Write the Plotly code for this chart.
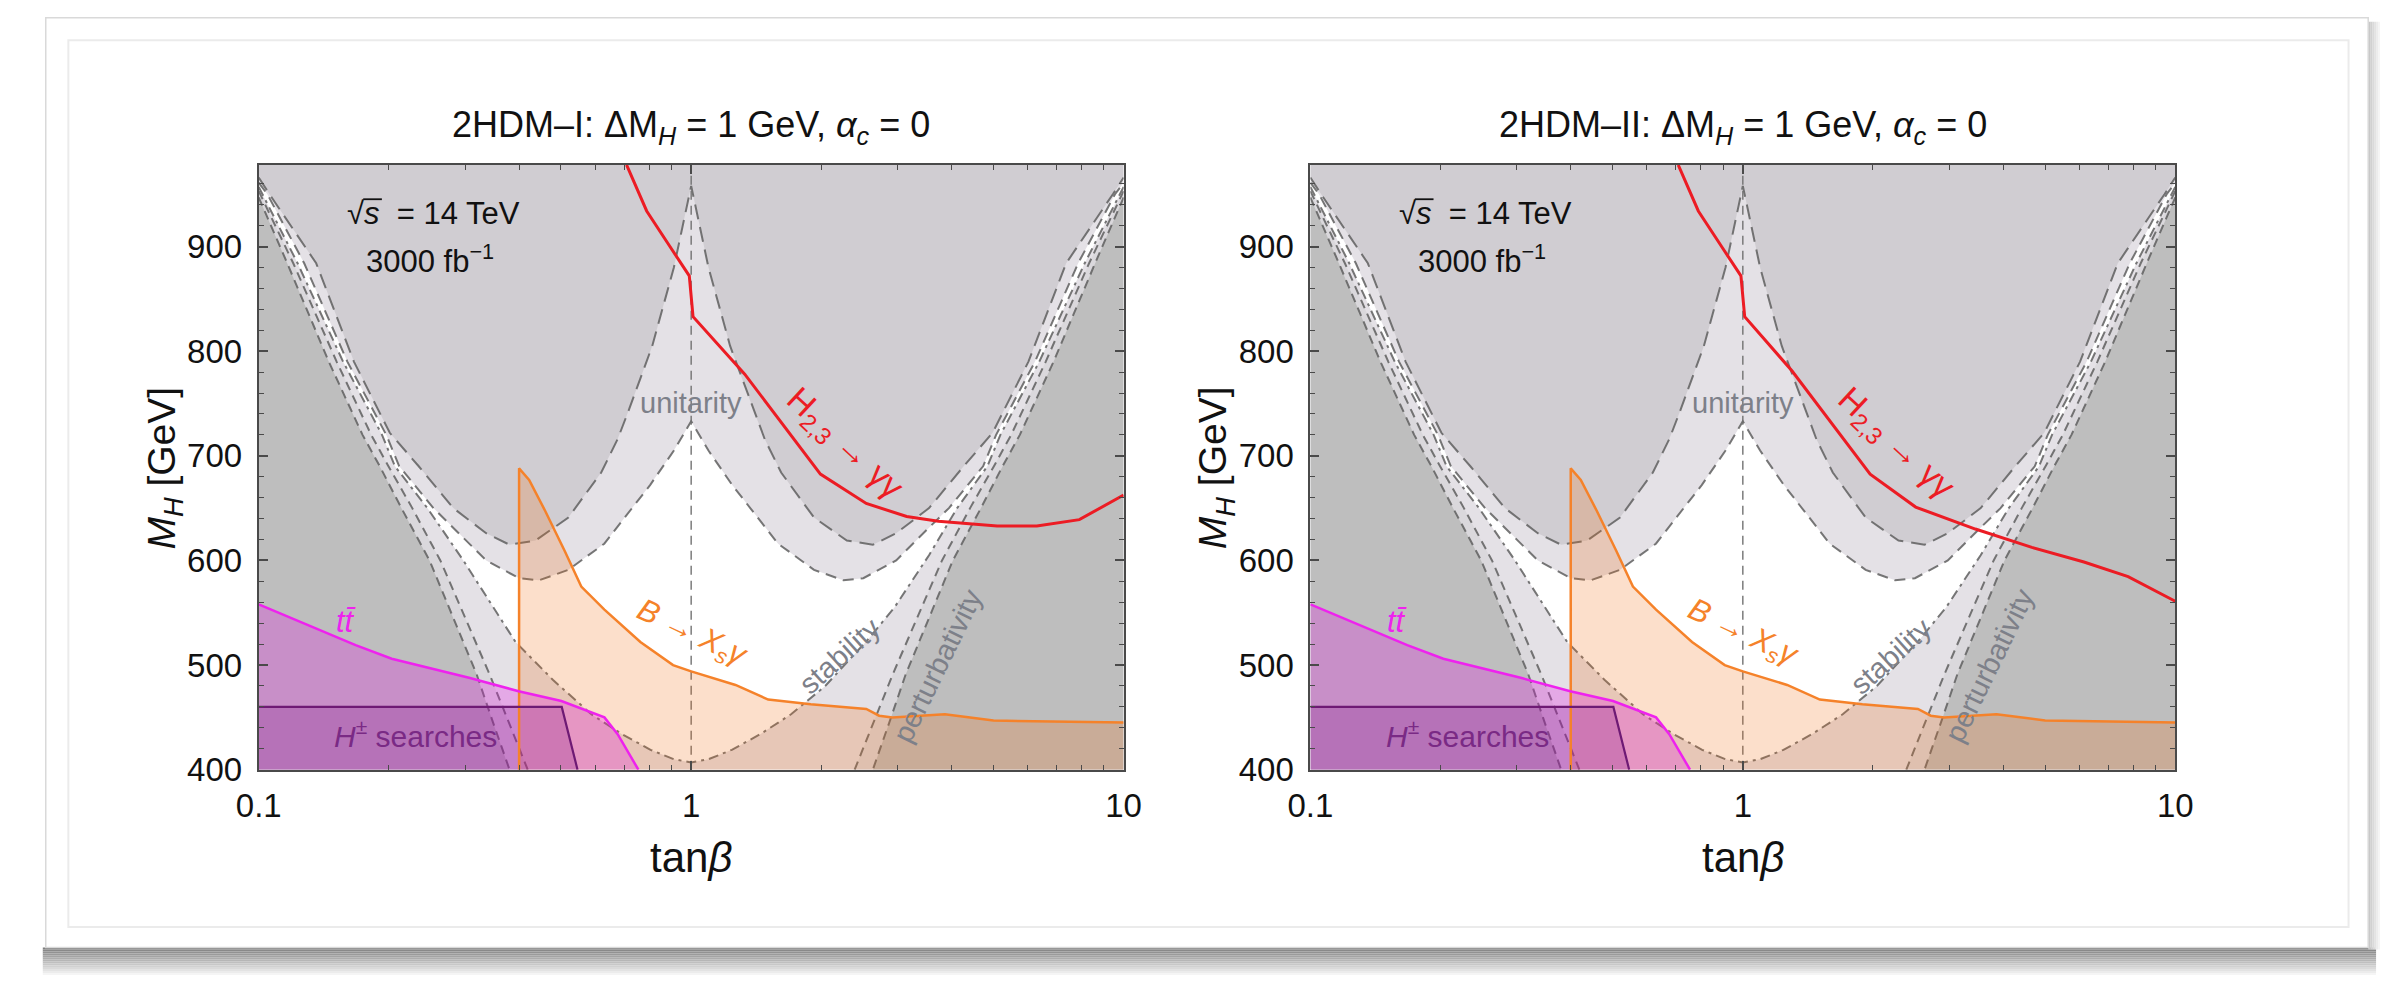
import math
import plotly.graph_objects as go

W, H = 2390, 984

# ---------------- data (tan(beta), M_H in GeV) ----------------
# perturbativity boundaries (left branch; right branch is the mirror tanb -> 1/tanb)
pert_outer_tb = [0.1, 0.1164, 0.1452, 0.1738, 0.1905, 0.2138, 0.2483, 0.2818, 0.3192, 0.3483, 0.3802]
pert_outer_m = [947, 884, 790, 720, 690, 650, 600, 545, 491, 445, 400]
pert_inner_tb = [0.1, 0.1202, 0.1514, 0.1820, 0.1995, 0.2265, 0.2630, 0.3420, 0.4188]
pert_inner_m = [953, 884, 790, 720, 690, 650, 600, 491, 400]
# vacuum stability (dot-dashed U)
stab_left_tb = [0.1, 0.1230, 0.1567, 0.1928, 0.2065, 0.2455, 0.2972, 0.3548, 0.3926, 0.4786, 0.5875, 0.6918, 0.8054, 0.9120, 1.0]
stab_left_m = [957, 884, 790, 720, 690, 650, 600, 550, 522, 486, 453, 434, 419, 410, 407]
stab_right_tb = [1.0, 1.0965, 1.2417, 1.4454, 1.7022, 2.0417, 2.5704, 2.9512, 3.5481, 4.1210, 4.8417, 5.1880, 6.3826, 8.1283, 10.0]
stab_right_m = [407, 410, 419, 434, 453, 480, 525, 555, 605, 650, 690, 720, 790, 884, 957]
# unitarity (inner and outer W shaped curves, left half)
unit_inner_tb = [0.1, 0.1047, 0.1274, 0.1603, 0.1972, 0.2113, 0.2535, 0.2825, 0.3357, 0.3999, 0.4446, 0.5200, 0.6295, 0.8035, 0.9120, 1.0]
unit_inner_m = [961, 950, 884, 790, 720, 690, 650, 631, 600, 583, 581, 591, 616, 672, 705, 733]
unit_outer_tb = [0.1, 0.1059, 0.1358, 0.1660, 0.2009, 0.2344, 0.2818, 0.3357, 0.3802, 0.4365, 0.5200, 0.6194, 0.6761, 0.7194, 0.8128, 0.9120, 1.0]
unit_outer_m = [966, 950, 884, 790, 722, 690, 650, 626, 615, 619, 641, 684, 716, 745, 805, 880, 958]
# B -> Xs gamma
bsg_tb = [0.4, 0.4, 0.422, 0.46, 0.51, 0.557, 0.63, 0.763, 0.908, 1.0, 1.266, 1.507, 1.89, 2.54, 2.72, 2.92, 3.86, 5.0, 10]
bsg_m = [400, 688, 677, 647, 609, 575, 553, 522, 500, 494, 481, 467, 462.5, 458, 451.6, 450, 453, 447, 445]
# t tbar
tt_tb = [0.1, 0.1675, 0.203, 0.308, 0.399, 0.501, 0.63, 0.676, 0.755]
tt_m = [558, 519, 506, 487.6, 475, 465.6, 450, 434, 400]
# H+- searches
hpm_tb = [0.1, 0.502, 0.546]
hpm_m = [460, 460, 400]
# H_{2,3} -> gamma gamma
hgg_I_tb = [0.709, 0.789, 0.893, 0.99, 1.01, 1.33, 1.99, 2.54, 3.15, 3.73, 5.1, 6.3, 7.9, 10]
hgg_I_m = [978, 934, 900, 872, 833, 778, 682.5, 654.5, 642, 637.5, 633, 633, 639, 662.5]
hgg_II_tb = [0.709, 0.789, 0.893, 0.99, 1.01, 1.30, 1.97, 2.51, 3.45, 4.66, 6.15, 7.78, 10]
hgg_II_m = [978, 934, 900, 872, 833, 781, 682.5, 651, 630, 612.5, 598.5, 584.5, 561]

titles = ["2HDM–I: ΔM<sub><i>H</i></sub> = 1 GeV, <i>α</i><sub><i>c</i></sub> = 0",
          "2HDM–II: ΔM<sub><i>H</i></sub> = 1 GeV, <i>α</i><sub><i>c</i></sub> = 0"]
y_ticks = [400, 500, 600, 700, 800, 900]
y_minor = [v for v in range(400, 980, 20) if v % 100]
x_ticks = [0.1, 1, 10]
x_tick_text = ["0.1", "1", "10"]
x_minor = [0.2, 0.3, 0.4, 0.5, 0.6, 0.7, 0.8, 0.9, 2, 3, 4, 5, 6, 7, 8, 9]
XMIN, XMAX, YMIN, YMAX = 0.1, 10, 400, 978

# ---------------- styling ----------------
FONT = "Liberation Sans, Arial, sans-serif"
C_DARK = "#bebebe"
C_MED = "#d0cdd2"
C_LIGHT = "#e4e1e6"
C_STRIP = "#dad8dc"
C_DASH = "rgba(95,95,95,0.85)"
C_RED = "#ec1c24"
C_ORANGE = "#f5822a"
C_MAG = "#ee22ee"
C_HPM = "#6e1a74"
C_LABEL = "#7d8089"


def mirror(tb, m):
    return [1.0 / t for t in tb], list(m)


def half_to_full(tb, m):
    rt = [1.0 / t for t in reversed(tb[:-1])]
    rm = list(reversed(m[:-1]))
    return list(tb) + rt, list(m) + rm


fig = go.Figure()

px = lambda x: x / W
py = lambda y: 1 - y / H

panel_left = [231.7, 1301.7]
PW = 880.0
PT, PB = 160.0, 776.7


def add_fill(xs, ys, color, ax):
    fig.add_trace(go.Scatter(x=xs, y=ys, fill="toself", fillcolor=color, mode="lines",
                             line=dict(color="rgba(0,0,0,0)", width=0), hoverinfo="skip",
                             showlegend=False, xaxis=ax[0], yaxis=ax[1]))


def add_line(xs, ys, color, width, dash, ax):
    fig.add_trace(go.Scatter(x=xs, y=ys, mode="lines", line=dict(color=color, width=width, dash=dash),
                             hoverinfo="skip", showlegend=False, xaxis=ax[0], yaxis=ax[1]))


u1_tb, u1_m = half_to_full(unit_outer_tb, unit_outer_m)
u2_tb, u2_m = half_to_full(unit_inner_tb, unit_inner_m)
s_tb = stab_left_tb + stab_right_tb[1:]
s_m = stab_left_m + stab_right_m[1:]
dR_tb, dR_m = mirror(pert_outer_tb, pert_outer_m)
pR_tb, pR_m = mirror(pert_inner_tb, pert_inner_m)

for k, ax in enumerate([("x", "y"), ("x2", "y2")]):
    add_fill([XMIN, XMAX, XMAX, XMIN], [YMIN, YMIN, YMAX, YMAX], C_LIGHT, ax)
    add_fill([XMIN] + u1_tb + [XMAX], [YMAX] + u1_m + [YMAX], C_MED, ax)
    add_fill(s_tb + u2_tb[::-1], s_m + u2_m[::-1], "white", ax)
    add_fill(pert_outer_tb + pert_inner_tb[::-1], pert_outer_m + pert_inner_m[::-1], C_STRIP, ax)
    add_fill(dR_tb + pR_tb[::-1], dR_m + pR_m[::-1], C_STRIP, ax)
    add_fill([XMIN] + pert_outer_tb, [YMIN] + pert_outer_m, C_DARK, ax)
    add_fill([XMAX] + dR_tb, [YMIN] + dR_m, C_DARK, ax)
    add_line(pert_outer_tb, pert_outer_m, C_DASH, 2, "9px,6px", ax)
    add_line(pert_inner_tb, pert_inner_m, C_DASH, 2, "9px,6px", ax)
    add_line(dR_tb, dR_m, C_DASH, 2, "9px,6px", ax)
    add_line(pR_tb, pR_m, C_DASH, 2, "9px,6px", ax)
    add_line(s_tb, s_m, C_DASH, 2, "10px,5px,3px,5px", ax)
    add_line(u1_tb, u1_m, C_DASH, 2, "15px,8px", ax)
    add_line(u2_tb, u2_m, C_DASH, 2, "11px,7px", ax)
    add_line([1, 1], [YMIN, YMAX], "rgba(110,110,110,0.9)", 1.5, "9px,6px", ax)
    add_fill(bsg_tb + [XMAX], bsg_m + [YMIN], "rgba(241,111,18,0.22)", ax)
    add_fill([XMIN] + tt_tb, [YMIN] + tt_m, "rgba(228,20,228,0.27)", ax)
    add_fill([XMIN] + hpm_tb, [YMIN] + hpm_m, "rgba(110,0,120,0.20)", ax)
    add_line(bsg_tb, bsg_m, C_ORANGE, 2.5, "solid", ax)
    add_line(tt_tb, tt_m, C_MAG, 2.5, "solid", ax)
    add_line(hpm_tb, hpm_m, C_HPM, 2.2, "solid", ax)
    if k == 0:
        add_line(hgg_I_tb, hgg_I_m, C_RED, 3, "solid", ax)
    else:
        add_line(hgg_II_tb, hgg_II_m, C_RED, 3, "solid", ax)

axis_common = dict(showline=True, linecolor="#4a4a4a", linewidth=2, mirror="allticks", ticks="inside",
                   tickcolor="#4a4a4a", tickwidth=1.5, ticklen=9, showgrid=False, zeroline=False,
                   tickfont=dict(family=FONT, size=33, color="#111111"))

layout = dict(width=W, height=H, margin=dict(l=0, r=0, t=0, b=0), paper_bgcolor="white",
              plot_bgcolor="rgba(0,0,0,0)", showlegend=False, font=dict(family=FONT))

for k in range(2):
    xl = panel_left[k]
    xa = dict(axis_common, type="log", range=[-1, 1], domain=[px(xl), px(xl + PW)],
              tickvals=x_ticks, ticktext=x_tick_text, ticklabelstandoff=6,
              minor=dict(tickvals=x_minor, ticks="inside", ticklen=5, tickcolor="#4a4a4a", tickwidth=1.2))
    ya = dict(axis_common, range=[YMIN, YMAX], domain=[py(PB), py(PT)], tickvals=y_ticks,
              ticklabelstandoff=8,
              minor=dict(tickvals=y_minor, ticks="inside", ticklen=5, tickcolor="#4a4a4a", tickwidth=1.2))
    if k == 0:
        layout["xaxis"] = dict(xa, anchor="y")
        layout["yaxis"] = dict(ya, anchor="x")
    else:
        layout["xaxis2"] = dict(xa, anchor="y2")
        layout["yaxis2"] = dict(ya, anchor="x2")

fig.update_layout(**layout)

# ---------------- card, shadow and small decorations ----------------
shapes = []
for i in range(14):
    g = int(128 + i * 9)
    shapes.append(dict(type="rect", xref="paper", yref="paper", x0=px(12), x1=px(2386),
                       y0=py(958 + 2 * i + 2), y1=py(958 + 2 * i), fillcolor=f"rgb({g},{g},{g})",
                       line=dict(width=0), layer="below"))
for i in range(6):
    g = int(200 + i * 9)
    shapes.append(dict(type="rect", xref="paper", yref="paper", x0=px(2378 + 2 * i), x1=px(2380 + 2 * i),
                       y0=py(960), y1=py(14), fillcolor=f"rgb({g},{g},{g})", line=dict(width=0), layer="below"))
shapes.append(dict(type="rect", xref="paper", yref="paper", x0=px(15), x1=px(2378), y0=py(958), y1=py(10),
                   fillcolor="white", line=dict(color="#d9d9d9", width=1.5), layer="below"))
shapes.append(dict(type="rect", xref="paper", yref="paper", x0=px(38), x1=px(2358), y0=py(937), y1=py(33),
                   fillcolor="rgba(0,0,0,0)", line=dict(color="#ebebeb", width=2), layer="below"))
# vinculum of the square root over "s"
for k in range(2):
    off = panel_left[k] - panel_left[0]
    shapes.append(dict(type="line", xref="paper", yref="paper", x0=px(338 + off), x1=px(357 + off),
                       y0=py(195), y1=py(195), line=dict(color="#111111", width=1.8), layer="above"))
fig.update_layout(shapes=shapes)

# ---------------- text ----------------
ann = []


def A(text, x, y, size, color="#111111", angle=0, xref="paper", yref="paper"):
    ann.append(dict(text=text, x=x, y=y, xref=xref, yref=yref, showarrow=False, textangle=angle,
                    font=dict(family=FONT, size=size, color=color), xanchor="center", yanchor="middle"))


for k in range(2):
    off = panel_left[k] - panel_left[0]
    xr, yr = ("x", "y") if k == 0 else ("x2", "y2")
    A(titles[k], px(671.7 + off), py(121), 36)
    A("<i>M</i><sub><i>H</i></sub> [GeV]", px(136 + off), py(469), 39, angle=-90)
    A("tan<i>β</i>", px(671.7 + off), py(866), 42)
    A("√<i>s</i>  = 14 TeV", px(410 + off), py(210), 31)
    A("3000 fb<sup>−1</sup>", px(406 + off), py(256), 31)
    A("unitarity", math.log10(1.0), 750, 29, C_LABEL, 0, xr, yr)
    A("stability", math.log10(2.2), 509, 29, C_LABEL, -42, xr, yr)
    A("perturbativity", math.log10(3.72), 500, 29, C_LABEL, -64, xr, yr)
    A("H<sub>2,3</sub> → γγ", math.log10(2.26), 711, 34, C_RED, 43, xr, yr)
    A("<i>B</i> → <i>X</i><sub><i>s</i></sub><i>γ</i>", math.log10(1.0), 530, 31, C_ORANGE, 25, xr, yr)
    A("<i>tt̄</i>", math.log10(0.159), 542, 31, C_MAG, 0, xr, yr)
    A("<i>H</i><sup>±</sup> searches", math.log10(0.231), 434, 30, "#7a2a85", 0, xr, yr)

fig.update_layout(annotations=ann)
fig.write_html("out.html")
